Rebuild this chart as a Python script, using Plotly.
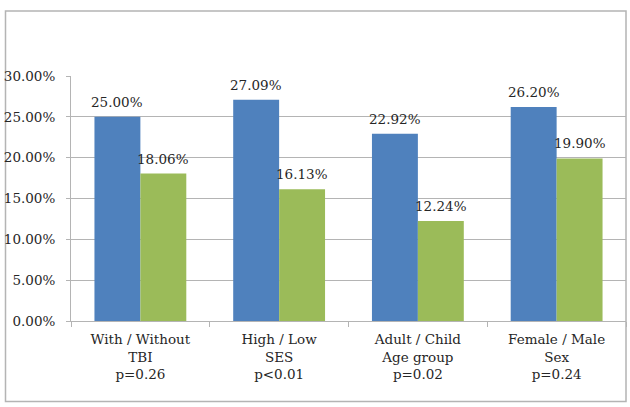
import plotly.graph_objects as go

categories = ["With / Without<br>TBI<br>p=0.26", "High / Low<br>SES<br>p<0.01",
              "Adult / Child<br>Age group<br>p=0.02", "Female / Male<br>Sex<br>p=0.24"]
first_values = [0.2500, 0.2709, 0.2292, 0.2620]
second_values = [0.1806, 0.1613, 0.1224, 0.1990]
y_ticks = [0, 0.05, 0.10, 0.15, 0.20, 0.25, 0.30]

W, H = 630, 407
ML, MR, MT, MB = 71, 4, 76, 86
FONT = "DejaVu Serif"
FS = 13.5
GRID = "#B4B4B4"
TXT = "#262626"

fig = go.Figure()
fig.add_trace(go.Bar(x=categories, y=first_values, marker_color="#4F81BD",
                     marker_line_width=0, name="A"))
fig.add_trace(go.Bar(x=categories, y=second_values, marker_color="#9BBB59",
                     marker_line_width=0, name="B"))

annotations = []
for c, v in zip(categories, first_values):
    annotations.append(dict(x=c, y=v, xref="x", yref="y", text=f"{v*100:.2f}%",
                            showarrow=False, xshift=-23, yshift=5, yanchor="bottom",
                            font=dict(family=FONT, size=FS, color=TXT)))
for c, v in zip(categories, second_values):
    annotations.append(dict(x=c, y=v, xref="x", yref="y", text=f"{v*100:.2f}%",
                            showarrow=False, xshift=23, yshift=5, yanchor="bottom",
                            font=dict(family=FONT, size=FS, color=TXT)))

pw = W - ML - MR
ph = H - MT - MB
def px_x(p):
    return (p - ML) / pw
def px_y(p):
    return (H - MB - p) / ph

shapes = [dict(type="rect", xref="paper", yref="paper",
               x0=px_x(5.5), x1=px_x(626), y0=px_y(401.5), y1=px_y(11),
               line=dict(color=GRID, width=1.5), fillcolor="rgba(0,0,0,0)", layer="below")]

fig.update_layout(
    width=W, height=H,
    margin=dict(l=ML, r=MR, t=MT, b=MB),
    paper_bgcolor="white", plot_bgcolor="white",
    barmode="group", bargap=0.338, bargroupgap=0,
    showlegend=False,
    font=dict(family=FONT, size=FS, color=TXT),
    annotations=annotations,
    shapes=shapes,
)
fig.update_yaxes(range=[0, 0.30], tickvals=y_ticks, tickformat=".2%",
                 showgrid=True, gridcolor=GRID, gridwidth=1,
                 showline=True, linecolor=GRID, linewidth=1,
                 ticks="outside", ticklen=4, tickcolor=GRID, ticklabelstandoff=8,
                 zeroline=False, tickfont=dict(family=FONT, size=FS, color=TXT))
fig.update_xaxes(showline=True, linecolor=GRID, linewidth=1,
                 ticks="outside", ticklen=5, tickcolor=GRID, tickson="boundaries",
                 ticklabelstandoff=6,
                 tickfont=dict(family=FONT, size=FS, color=TXT))

fig.write_html("out.html")
